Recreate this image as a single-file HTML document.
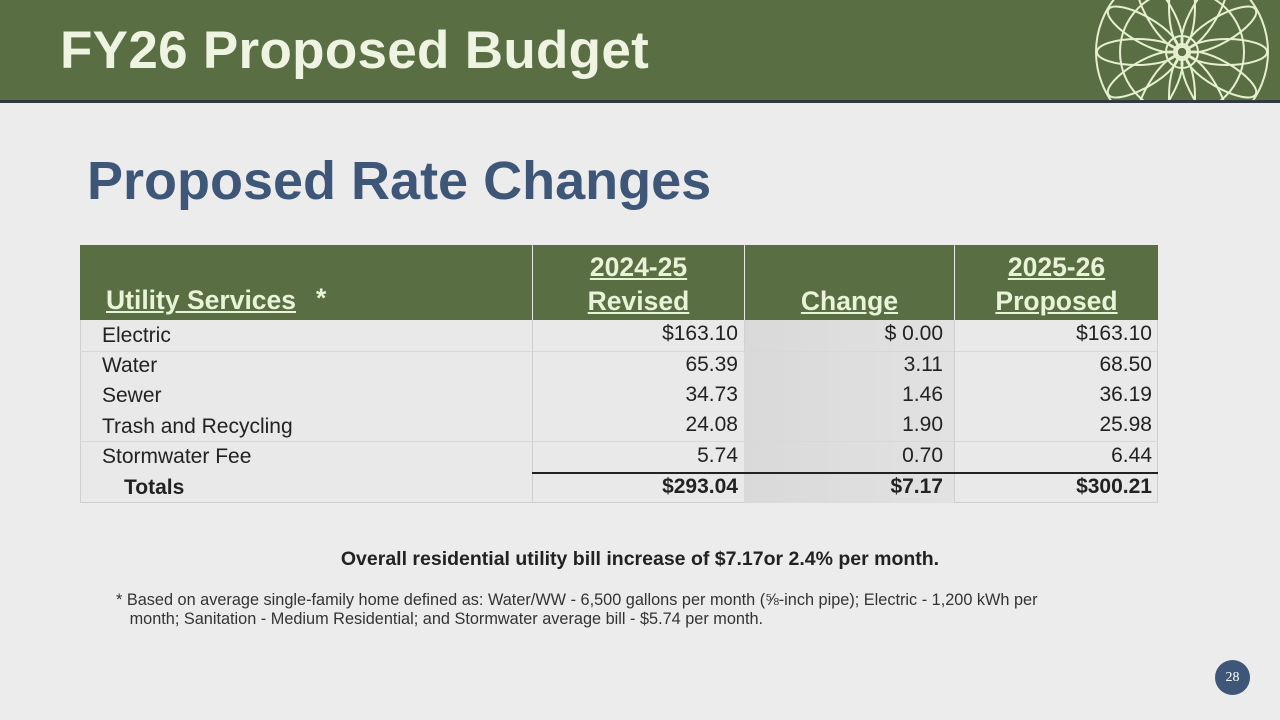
<!DOCTYPE html>
<html><head><meta charset="utf-8"><style>
body{margin:0;width:1280px;height:720px;background:#ececec;position:relative;overflow:hidden;font-family:"Liberation Sans","DejaVu Sans",sans-serif;}
.hdr{position:absolute;left:0;top:0;width:1280px;height:100px;background:#5a6e44;border-bottom:3px solid #2f3a40;overflow:hidden;}
.hdr h1{position:absolute;left:60px;top:20px;margin:0;font-size:53px;font-weight:bold;color:#eef3e2;letter-spacing:0.3px}
.sub{position:absolute;left:87px;top:150px;font-size:54px;font-weight:bold;color:#3e5678;}
.c{position:absolute;}
.th{background:#5a6e44;color:#e8f3d8;font-weight:bold;font-size:26.5px;text-align:center;text-decoration:underline;line-height:34px;}
.row{position:absolute;left:80px;width:1078px;font-size:21px;color:#222;}
.cell{position:absolute;top:0;height:100%;box-sizing:border-box;}
.r{text-align:right;padding-right:6px;}
.ch{padding-right:11px}
</style></head><body>
<div class="hdr"><h1>FY26 Proposed Budget</h1>
<svg style="position:absolute;left:1092px;top:-38px" width="180" height="180" viewBox="-90 -90 180 180" fill="none" stroke="#e6f0d0" stroke-width="2">
<circle r="86"/><circle r="62"/><circle r="16"/>
<g id="p"><ellipse cx="0" cy="-45" rx="13" ry="40"/></g>
<use href="#p" transform="rotate(30)"/><use href="#p" transform="rotate(60)"/><use href="#p" transform="rotate(90)"/><use href="#p" transform="rotate(120)"/><use href="#p" transform="rotate(150)"/><use href="#p" transform="rotate(180)"/><use href="#p" transform="rotate(210)"/><use href="#p" transform="rotate(240)"/><use href="#p" transform="rotate(270)"/><use href="#p" transform="rotate(300)"/><use href="#p" transform="rotate(330)"/>
<circle r="8"/></svg>
</div>
<div class="sub">Proposed Rate Changes</div>

<div class="c" style="left:80px;top:245px;width:1078px;height:258px;background:#e9e9e9;border:1px solid #cfcfcf;box-sizing:border-box"></div>
<div class="c" style="left:744px;top:320px;width:210px;height:183px;background:linear-gradient(90deg,#d9d9d9,#e2e2e2)"></div>
<div class="c th" style="left:80px;top:245px;width:452px;height:75px;text-align:left"><span style="position:absolute;left:26px;top:38px;text-decoration:underline">Utility Services</span><span style="position:absolute;left:236px;top:36px;text-decoration:none">*</span></div>
<div class="c th" style="left:533px;top:245px;width:211px;height:75px;padding-top:5px;box-sizing:border-box">2024-25<br>Revised</div>
<div class="c th" style="left:745px;top:245px;width:209px;height:75px;padding-top:39px;box-sizing:border-box">Change</div>
<div class="c th" style="left:955px;top:245px;width:203px;height:75px;padding-top:5px;box-sizing:border-box">2025-26<br>Proposed</div>

<div class="row" style="top:320px;height:31px;border-bottom:1px solid #d8d8d8"><div class="cell" style="left:22px;line-height:31px">Electric</div><div class="cell r" style="left:452px;width:212px;border-left:1px solid #d0d0d0;line-height:28px">$163.10</div><div class="cell r ch" style="left:664px;width:210px;line-height:28px;border-left:1px solid #d0d0d0">$ 0.00</div><div class="cell r" style="left:874px;width:204px;line-height:28px;border-left:1px solid #d0d0d0">$163.10</div></div>
<div class="row" style="top:351px;height:30px"><div class="cell" style="left:22px;line-height:30px">Water</div><div class="cell r" style="left:452px;width:212px;border-left:1px solid #d0d0d0;line-height:28px">65.39</div><div class="cell r ch" style="left:664px;width:210px;line-height:28px">3.11</div><div class="cell r" style="left:874px;width:204px;line-height:28px;border-left:1px solid #d0d0d0">68.50</div></div>
<div class="row" style="top:381px;height:30px"><div class="cell" style="left:22px;line-height:30px">Sewer</div><div class="cell r" style="left:452px;width:212px;border-left:1px solid #d0d0d0;line-height:28px">34.73</div><div class="cell r ch" style="left:664px;width:210px;line-height:28px">1.46</div><div class="cell r" style="left:874px;width:204px;line-height:28px;border-left:1px solid #d0d0d0">36.19</div></div>
<div class="row" style="top:411px;height:30px;border-bottom:1px solid #d8d8d8"><div class="cell" style="left:22px;line-height:32px">Trash and Recycling</div><div class="cell r" style="left:452px;width:212px;border-left:1px solid #d0d0d0;line-height:28px">24.08</div><div class="cell r ch" style="left:664px;width:210px;line-height:28px">1.90</div><div class="cell r" style="left:874px;width:204px;line-height:28px;border-left:1px solid #d0d0d0">25.98</div></div>
<div class="row" style="top:442px;height:30px"><div class="cell" style="left:22px;line-height:30px">Stormwater Fee</div><div class="cell r" style="left:452px;width:212px;border-left:1px solid #d0d0d0;line-height:28px">5.74</div><div class="cell r ch" style="left:664px;width:210px;line-height:28px">0.70</div><div class="cell r" style="left:874px;width:204px;line-height:28px;border-left:1px solid #d0d0d0">6.44</div></div>
<div class="c" style="left:532px;top:472px;width:626px;height:2px;background:#222"></div>
<div class="row" style="top:474px;height:29px;font-weight:bold"><div class="cell" style="left:44px;line-height:28px">Totals</div><div class="cell r" style="left:452px;width:212px;border-left:1px solid #d0d0d0;line-height:26px">$293.04</div><div class="cell r ch" style="left:664px;width:210px;line-height:26px">$7.17</div><div class="cell r" style="left:874px;width:204px;line-height:26px;border-left:1px solid #d0d0d0">$300.21</div></div>

<div class="c" style="left:0;width:1280px;top:548px;text-align:center;font-size:19.5px;font-weight:bold;color:#222">Overall residential utility bill increase of $7.17or 2.4% per month.</div>
<div class="c" style="left:116px;top:591px;width:1000px;font-size:16.3px;color:#333;line-height:19px">* Based on average single-family home defined as: Water/WW - 6,500 gallons per month (⅝-inch pipe); Electric - 1,200 kWh per<br>&nbsp;&nbsp;&nbsp;month; Sanitation - Medium Residential; and Stormwater average bill - $5.74 per month.</div>
<div class="c" style="left:1215px;top:660px;width:35px;height:35px;border-radius:50%;background:#3e5678;color:#fff;font-family:'Liberation Serif',serif;font-size:14px;text-align:center;line-height:35px">28</div>
</body></html>
